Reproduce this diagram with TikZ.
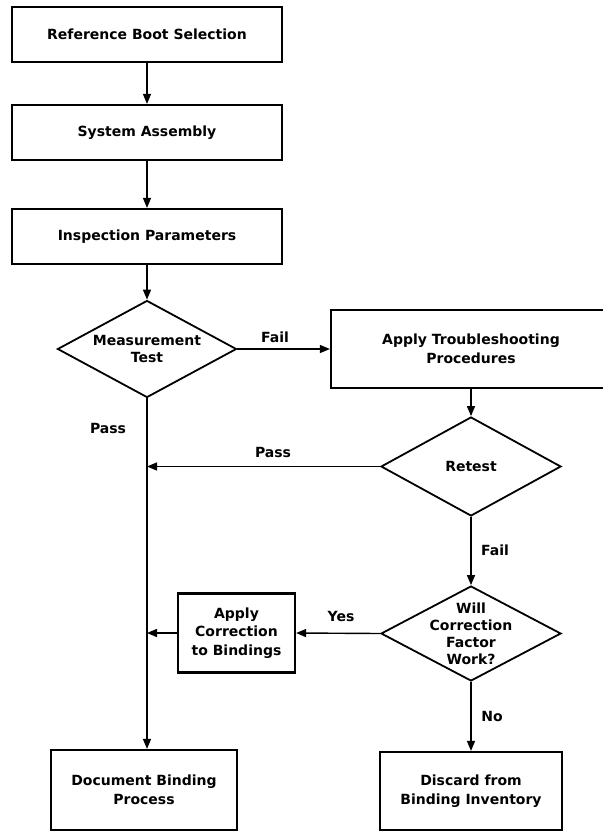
\documentclass[tikz,border=0pt]{standalone}
\usepackage{fontspec}
\setmainfont{DejaVu Sans}
\usetikzlibrary{shapes.geometric,arrows.meta}
\tikzset{
  boxnode/.style={draw, line width=2.2pt, rectangle, inner sep=0pt, align=center, font=\bfseries\fontsize{14}{18.5}\selectfont},
  dianode/.style={draw, line width=1.8pt, diamond, inner sep=0pt},
  dtext/.style={align=center, inner sep=0pt, font=\bfseries\fontsize{14}{17}\selectfont},
  lbl/.style={inner sep=0pt, font=\bfseries\fontsize{14}{17}\selectfont},
  arr/.style={line width=1.4pt, -{Triangle[length=10pt,width=8pt]}},
  conn/.style={line width=1.4pt}
}
\begin{document}
\begin{tikzpicture}[x=1pt,y=-1pt]
\useasboundingbox (0,0) rectangle (603,831);
% boxes
\node[boxnode, minimum width=270pt, minimum height=55pt] (b1) at (147,34.5) {Reference Boot Selection};
\node[boxnode, minimum width=270pt, minimum height=55pt] (b2) at (147,132.5) {System Assembly};
\node[boxnode, minimum width=270pt, minimum height=55pt] (b3) at (147,236.5) {Inspection Parameters};
\node[dianode, minimum width=179pt, minimum height=97pt] (d1) at (147,349) {};
\node[dtext] at (d1) {Measurement\\Test};
\node[boxnode, minimum width=280pt, minimum height=78pt] (b4) at (471,349) {Apply Troubleshooting\\Procedures};
\node[dianode, minimum width=180pt, minimum height=99pt] (d2) at (471,466.5) {};
\node[dtext] at (d2) {Retest};
\node[dianode, minimum width=180pt, minimum height=95pt] (d3) at (471,633.5) {};
\node[dtext] at (d3) {Will\\Correction\\Factor\\Work?};
\node[boxnode, minimum width=117pt, minimum height=79pt] (b5) at (236.5,633) {Apply\\Correction\\to Bindings};
\node[boxnode, minimum width=186pt, minimum height=80pt] (b6) at (144,790) {Document Binding\\Process};
\node[boxnode, minimum width=182pt, minimum height=78pt] (b7) at (471,791) {Discard from\\Binding Inventory};
% connectors
\draw[arr] (b1.south) -- (b2.north);
\draw[arr] (b2.south) -- (b3.north);
\draw[arr] (b3.south) -- (d1.north);
\draw[arr] (d1.east) -- (b4.west);
\draw[arr] (b4.south) -- (d2.north);
\coordinate (m1) at (d1.south |- b6.north);
\draw[arr] (d1.south) -- (m1);
\coordinate (m2) at (d1.south |- d2.west);
\draw[arr] (d2.west) -- (m2);
\draw[arr] (d2.south) -- (d3.north);
\draw[arr] (d3.west) -- (b5.east);
\coordinate (m3) at (d1.south |- b5.west);
\draw[arr] (b5.west) -- (m3);
\draw[arr] (d3.south) -- (b7.north);
% labels
\node[lbl] (l1) at (275,337) {Fail};
\node[lbl] (l2) at (108,428) {Pass};
\node[lbl] (l3) at (273,452) {Pass};
\node[lbl] (l4) at (495,550) {Fail};
\node[lbl] (l5) at (341,616) {Yes};
\node[lbl] (l6) at (492,716) {No};
\end{tikzpicture}
\end{document}
